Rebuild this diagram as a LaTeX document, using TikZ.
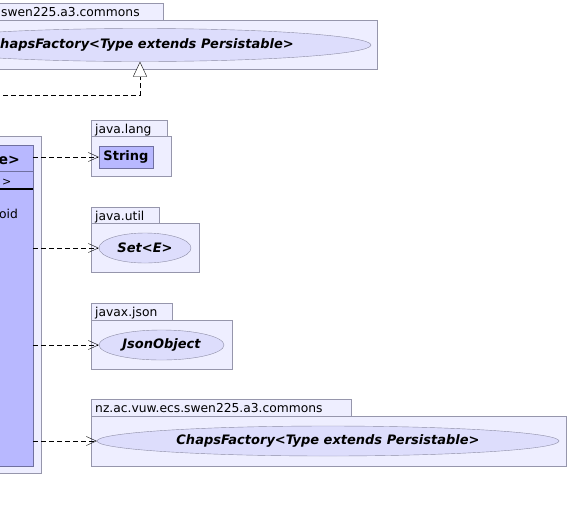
\documentclass[tikz,border=0pt]{standalone}
\usepackage{fontspec}
\setmainfont{DejaVu Sans}
\usetikzlibrary{shapes, arrows.meta, calc}

\definecolor{pkgfill}{RGB}{238,238,255}
\definecolor{pkgline}{RGB}{150,150,172}
\definecolor{clsfill}{RGB}{184,184,255}
\definecolor{clsline}{RGB}{112,112,160}
\definecolor{ifcfill}{RGB}{221,221,252}
\definecolor{ifcline}{RGB}{140,140,165}

\begin{document}
\begin{tikzpicture}[x=1pt, y=-1pt,
    every node/.style={font=\fontsize{12.3}{14}\selectfont},
    pkgtab/.style={draw=pkgline, fill=pkgfill, anchor=north west, inner sep=0pt, minimum height=17, minimum width=#1},
    pkgbody/.style={draw=pkgline, fill=pkgfill, anchor=north west, inner sep=0pt},
    pkgname/.style={anchor=base west, inner sep=0pt},
    cls/.style={draw=clsline, fill=clsfill, inner sep=0pt},
    ifc/.style={draw=ifcline, fill=ifcfill, ellipse, inner sep=0pt, font=\fontsize{13}{15}\selectfont\bfseries\itshape},
    dep/.style={draw=black, dash pattern=on 5pt off 3pt, -{Straight Barb[length=10pt, width=9pt]}},
    realize/.style={draw=black, dash pattern=on 5pt off 3pt, -{Triangle[open, length=15pt, width=14pt, fill=white]}}]
    \clip (0,0) rectangle (569,512);
    \fill[white] (0,0) rectangle (569,512);

    % package at top (only its right part shows)
    \node[pkgtab=260] (toptab) at (-97,3) {};
    \node[pkgbody, minimum width=474, minimum height=49] (toppkg) at (-97,20) {};
    \node[pkgname] (toplbl) at (1,16) {swen225.a3.commons};
    \node[ifc, minimum width=462, minimum height=33] (topcf) at (140,45) {};
    \node[anchor=east, inner sep=0pt, font=\fontsize{13}{15}\selectfont\bfseries\itshape] (toptxt) at ($(topcf.center)+(154,0)$) {hapsFactory<Type extends Persistable>};

    % package with the class (cut off on the left)
    \node[pkgbody, anchor=north east, minimum width=150, minimum height=337] (mainpkg) at (41,136) {};
    \node[cls, anchor=north east, minimum width=120, minimum height=321] (cls) at (33,145) {};
    \node[anchor=base east, inner sep=0pt, font=\fontsize{14}{16}\selectfont\bfseries] (clsname) at (20,164) {e>};
    \node[anchor=base west, inner sep=0pt, font=\fontsize{11}{13}\selectfont] (clsparam) at (2,185) {>};
    \node[anchor=base west, inner sep=0pt] (clsop) at (-1,218) {oid};
    \draw[clsline] (cls.west |- 0,171) -- (cls.east |- 0,171);
    \draw[black, line width=2pt] (cls.west |- 0,188.5) -- (cls.east |- 0,188.5);

    % java.lang
    \node[pkgtab=76] (langtab) at (91,120) {};
    \node[pkgname] (langlbl) at (95,133) {java.lang};
    \node[pkgbody, minimum width=80, minimum height=40] (langpkg) at (91,136) {};
    \node[cls, minimum width=54, minimum height=22, font=\fontsize{13}{15}\selectfont\bfseries] (strbox) at (126,157) {String};

    % java.util
    \node[pkgtab=68] (utiltab) at (91,207) {};
    \node[pkgname] (utillbl) at (95,220) {java.util};
    \node[pkgbody, minimum width=108, minimum height=49] (utilpkg) at (91,223) {};
    \node[ifc, minimum width=92, minimum height=30] (setbox) at (145,248) {Set<E>};

    % javax.json
    \node[pkgtab=81] (jsontab) at (91,303) {};
    \node[pkgname] (jsonlbl) at (95,316) {javax.json};
    \node[pkgbody, minimum width=141, minimum height=49] (jsonpkg) at (91,320) {};
    \node[ifc, minimum width=125, minimum height=30] (jsonbox) at (161.5,345) {JsonObject};

    % commons
    \node[pkgtab=260] (comtab) at (91,399) {};
    \node[pkgname] (comlbl) at (95,412) {nz.ac.vuw.ecs.swen225.a3.commons};
    \node[pkgbody, minimum width=475, minimum height=50] (compkg) at (91,416) {};
    \node[ifc, minimum width=462, minimum height=30] (cfbox) at (328,441) {ChapsFactory<Type extends Persistable>};

    % dependencies
    \draw[dep] (cls.east |- strbox.west) -- (strbox.west);
    \draw[dep] (cls.east |- setbox.west) -- (setbox.west);
    \draw[dep] (cls.east |- jsonbox.west) -- (jsonbox.west);
    \draw[dep] (cls.east |- cfbox.west) -- (cfbox.west);

    % realization
    \coordinate (implsrc) at (-5,95);
    \draw[realize] (implsrc) -| (topcf.south);
\end{tikzpicture}
\end{document}
